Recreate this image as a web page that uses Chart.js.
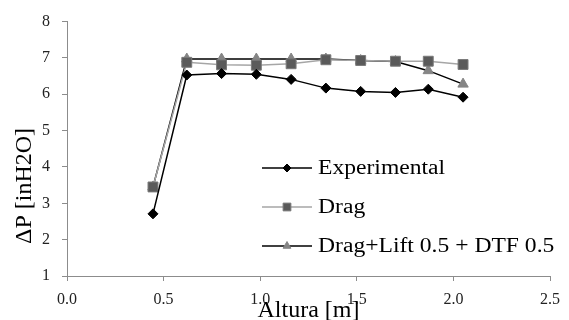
<!DOCTYPE html>
<html>
<head>
<meta charset="utf-8">
<script src="https://cdn.jsdelivr.net/npm/chart.js@4/dist/chart.umd.min.js"></script>
<style>
html,body{margin:0;padding:0;background:#fff;}
#wrap{width:569px;height:320px;position:relative;}
</style>
</head>
<body>
<div id="wrap"><canvas id="c" width="569" height="320"></canvas></div>
<script>
const xValues = [0.445, 0.62, 0.80, 0.98, 1.16, 1.34, 1.52, 1.70, 1.87, 2.05];
const experimental = [2.71, 6.53, 6.57, 6.55, 6.41, 6.17, 6.08, 6.05, 6.14, 5.92];
const drag = [3.45, 6.88, 6.81, 6.80, 6.84, 6.95, 6.93, 6.91, 6.91, 6.82];
const dragLift = [3.45, 6.97, 6.97, 6.97, 6.97, 6.97, 6.93, 6.90, 6.65, 6.28];
const seriesNames = ['Experimental', 'Drag', 'Drag+Lift 0.5 + DTF 0.5'];
const xTitle = 'Altura [m]';
const yTitle = '\u0394P [inH2O]';
const xTicks = [0, 0.5, 1.0, 1.5, 2.0, 2.5];
const yTicks = [1, 2, 3, 4, 5, 6, 7, 8];

const pts = (ys) => xValues.map((x, i) => ({x: x, y: ys[i]}));
const SERIF = '"Liberation Serif", "Times New Roman", serif';
const legendRadius = [4, 5.5, 4.5];

const overlay = {
  id: 'overlay',
  afterDraw(chart) {
    const ctx = chart.ctx;
    const area = chart.chartArea;
    ctx.save();
    // legend
    const rows = [168, 207, 246];
    const cx = 287;
    chart.data.datasets.forEach((ds, i) => {
      const y = rows[i];
      ctx.strokeStyle = ds.borderColor;
      ctx.lineWidth = ds.borderWidth;
      ctx.beginPath();
      ctx.moveTo(262, y);
      ctx.lineTo(312, y);
      ctx.stroke();
      ctx.fillStyle = ds.pointBackgroundColor;
      ctx.strokeStyle = ds.pointBorderColor;
      ctx.lineWidth = ds.pointBorderWidth;
      ctx.beginPath();
      const st = ds.pointStyle;
      const r = legendRadius[i];
      if (st === 'rectRot') {
        ctx.moveTo(cx, y - r); ctx.lineTo(cx + r, y); ctx.lineTo(cx, y + r); ctx.lineTo(cx - r, y); ctx.closePath();
      } else if (st === 'rect') {
        const s = r * Math.SQRT1_2;
        ctx.rect(cx - s, y - s, 2 * s, 2 * s);
      } else {
        ctx.moveTo(cx, y - r); ctx.lineTo(cx + r * 0.866, y + r * 0.5); ctx.lineTo(cx - r * 0.866, y + r * 0.5); ctx.closePath();
      }
      ctx.fill(); ctx.stroke();
      ctx.save();
      ctx.translate(318, y);
      ctx.scale(1.18, 1);
      ctx.fillStyle = '#000';
      ctx.font = '20px ' + SERIF;
      ctx.textBaseline = 'middle';
      ctx.textAlign = 'left';
      ctx.fillText(seriesNames[i], 0, 1);
      ctx.restore();
    });
    // x title
    ctx.save();
    ctx.fillStyle = '#000';
    ctx.font = '24px ' + SERIF;
    ctx.textAlign = 'center';
    ctx.textBaseline = 'alphabetic';
    ctx.translate((area.left + area.right) / 2, 317);
    ctx.fillText(xTitle, 0, 0);
    ctx.restore();
    // y title
    ctx.save();
    ctx.fillStyle = '#000';
    ctx.font = '24px ' + SERIF;
    ctx.textAlign = 'center';
    ctx.textBaseline = 'alphabetic';
    ctx.translate(31, 186);
    ctx.rotate(-Math.PI / 2);
    ctx.fillText(yTitle, 0, 0);
    ctx.restore();
    ctx.restore();
  }
};

const common = {
  showLine: true,
  fill: false,
  tension: 0,
  borderWidth: 1.5,
  pointBorderWidth: 1,
  pointHoverRadius: 0
};

new Chart(document.getElementById('c'), {
  type: 'scatter',
  data: {
    datasets: [
      Object.assign({}, common, {
        label: seriesNames[0], data: pts(experimental),
        borderColor: '#000000', pointStyle: 'rectRot', pointRadius: 5,
        pointBackgroundColor: '#000000', pointBorderColor: '#000000'
      }),
      Object.assign({}, common, {
        label: seriesNames[1], data: pts(drag),
        borderColor: '#a6a6a6', pointStyle: 'rect', pointRadius: 7,
        pointBackgroundColor: '#5a5a5a', pointBorderColor: '#7a7a7a'
      }),
      Object.assign({}, common, {
        label: seriesNames[2], data: pts(dragLift),
        borderColor: '#000000', pointStyle: 'triangle', pointRadius: 6,
        pointBackgroundColor: '#858585', pointBorderColor: '#858585'
      })
    ]
  },
  options: {
    responsive: false,
    animation: false,
    devicePixelRatio: 1,
    layout: {padding: {top: 17, right: 12, left: 0, bottom: 0}},
    plugins: {legend: {display: false}, tooltip: {enabled: false}},
    events: [],
    scales: {
      x: {
        type: 'linear', min: 0, max: 2.5,
        afterBuildTicks: (s) => { s.ticks = xTicks.map(v => ({value: v})); },
        afterFit: (s) => { s.height = 44; },
        grid: {drawOnChartArea: false, drawTicks: true, tickLength: 5, color: '#8c8c8c'},
        border: {color: '#8c8c8c', width: 1},
        ticks: {
          color: '#222', padding: 9, maxRotation: 0,
          font: {family: SERIF, size: 16},
          callback: (v) => Number(v).toFixed(1)
        }
      },
      y: {
        type: 'linear', min: 1, max: 8,
        afterBuildTicks: (s) => { s.ticks = yTicks.map(v => ({value: v})); },
        afterFit: (s) => { s.width = 67; },
        grid: {drawOnChartArea: false, drawTicks: true, tickLength: 5, color: '#8c8c8c'},
        border: {color: '#8c8c8c', width: 1},
        ticks: {
          color: '#222', padding: 12,
          font: {family: SERIF, size: 16},
          callback: (v) => String(v)
        }
      }
    }
  },
  plugins: [overlay]
});
</script>
</body>
</html>
